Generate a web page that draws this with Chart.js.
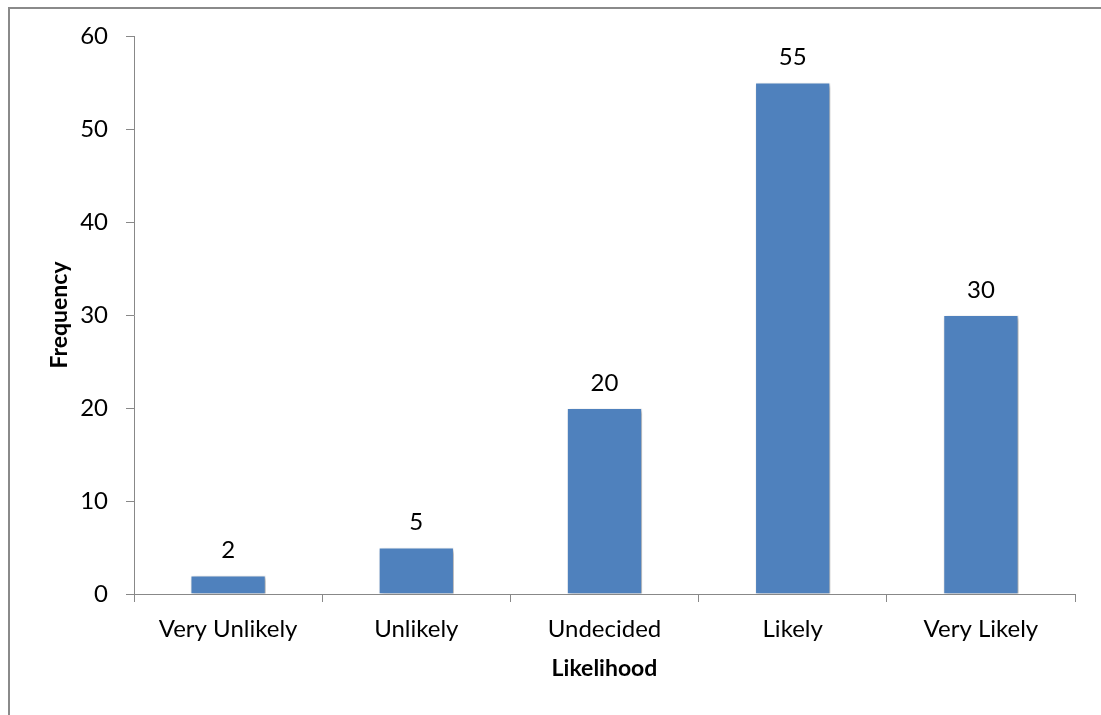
<!DOCTYPE html>
<html>
<head>
<meta charset="utf-8">
<script src="https://cdn.jsdelivr.net/npm/chart.js@4.4.1/dist/chart.umd.min.js"></script>
<style>
  html, body { margin: 0; padding: 0; background: #fff; overflow: hidden; }
  #wrap { position: relative; width: 1101px; height: 715px; }
  #frame { position: absolute; left: 8px; top: 7px; width: 1200px; height: 800px;
           border-left: 2px solid #8a8a8a; border-top: 2px solid #8a8a8a; box-sizing: border-box; pointer-events: none; }
  canvas { position: absolute; left: 0; top: 0; }
</style>
</head>
<body>
<div id="wrap">
  <canvas id="c" width="1101" height="715"></canvas>
  <div id="frame"></div>
</div>
<script>
const categories = ["Very Unlikely", "Unlikely", "Undecided", "Likely", "Very Likely"];
const frequencies = [2, 5, 20, 55, 30];
const yTicks = [0, 10, 20, 30, 40, 50, 60];
const xTitle = "Likelihood";
const yTitle = "Frequency";

const FONT = "Lato, 'Open Sans', sans-serif";

const shadowPlugin = {
  id: 'barShadow',
  beforeDatasetsDraw(chart) {
    const ctx = chart.ctx;
    ctx.save();
    ctx.shadowColor = 'rgba(0,0,0,0.35)';
    ctx.shadowBlur = 4;
    ctx.shadowOffsetX = 2;
    ctx.shadowOffsetY = 2;
  },
  afterDatasetsDraw(chart) {
    chart.ctx.restore();
  }
};

const labelPlugin = {
  id: 'valueLabels',
  afterDatasetsDraw(chart) {
    const ctx = chart.ctx;
    const meta = chart.getDatasetMeta(0);
    ctx.save();
    ctx.font = "24px " + FONT;
    ctx.fillStyle = '#000';
    ctx.textAlign = 'center';
    ctx.textBaseline = 'middle';
    meta.data.forEach((bar, i) => {
      ctx.fillText(String(chart.data.datasets[0].data[i]), bar.x, bar.y - 25);
    });
    ctx.restore();
  }
};

new Chart(document.getElementById('c'), {
  type: 'bar',
  data: {
    labels: categories,
    datasets: [{
      data: frequencies,
      backgroundColor: '#4F81BD',
      borderColor: 'rgba(255,255,255,0.9)',
      borderWidth: 1,
      barPercentage: 0.4,
      categoryPercentage: 1.0
    }]
  },
  options: {
    responsive: false,
    animation: false,
    devicePixelRatio: 1,
    layout: { padding: { left: 0, right: 26, top: 36, bottom: 0 } },
    plugins: { legend: { display: false }, tooltip: { enabled: false } },
    scales: {
      x: {
        offset: true,
        grid: { offset: true, drawOnChartArea: false, drawTicks: true, tickLength: 8, color: '#888', lineWidth: 1 },
        border: { display: true, color: '#888', width: 1 },
        ticks: { color: '#000', font: { family: FONT, size: 24 }, padding: 13, maxRotation: 0 },
        title: { display: true, text: xTitle, color: '#000', font: { family: FONT, size: 23, weight: 'bold' }, padding: { top: 0, bottom: 33 } },
        afterFit(scale) { scale.height = 121; }
      },
      y: {
        min: 0, max: 60,
        afterBuildTicks(scale) { scale.ticks = yTicks.map(v => ({ value: v })); },
        grid: { drawOnChartArea: false, drawTicks: true, tickLength: 8, color: '#888', lineWidth: 1 },
        border: { display: true, color: '#888', width: 1 },
        ticks: { color: '#000', font: { family: FONT, size: 24 }, padding: 18 },
        title: { display: true, text: yTitle, color: '#000', font: { family: FONT, size: 23, weight: 'bold' }, padding: { top: 46, bottom: 0 } },
        afterFit(scale) { scale.width = 134; }
      }
    }
  },
  plugins: [shadowPlugin, labelPlugin]
});
</script>
</body>
</html>
